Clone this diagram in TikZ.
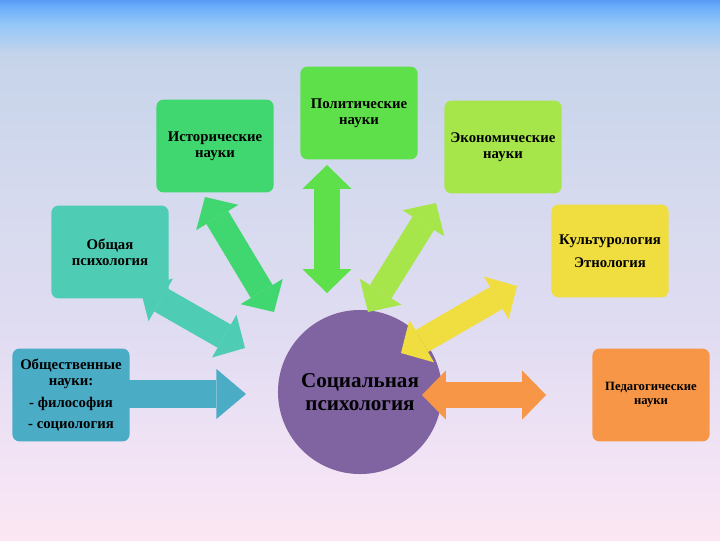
\documentclass[tikz,border=0pt]{standalone}
\usepackage{fontspec}
\setmainfont{Liberation Serif}
\usetikzlibrary{arrows.meta}

\definecolor{bgA}{HTML}{5A9AF4}
\definecolor{bgB}{HTML}{6AAEFA}
\definecolor{bgC}{HTML}{96C8F8}
\definecolor{bgD}{HTML}{C6D4EA}
\definecolor{bgE}{HTML}{D6DAEE}
\definecolor{bgF}{HTML}{E0DCF2}
\definecolor{bgG}{HTML}{F3E4F5}
\definecolor{bgH}{HTML}{FBE6F3}
\pgfdeclareverticalshading{slidebg}{100bp}{color(0bp)=(bgH); color(25bp)=(bgH); color(31.5bp)=(bgG); color(44.4bp)=(bgF); color(56.5bp)=(bgE); color(69.9bp)=(bgD); color(72.7bp)=(bgC); color(74.4bp)=(bgB); color(75bp)=(bgA); color(100bp)=(bgA)}

\definecolor{csoc}{HTML}{4BACC6}
\definecolor{cpsy}{HTML}{4ECDB4}
\definecolor{chist}{HTML}{40D670}
\definecolor{cpol}{HTML}{5EE04A}
\definecolor{cecon}{HTML}{A6E64A}
\definecolor{ccult}{HTML}{F0DE40}
\definecolor{cped}{HTML}{F79646}
\definecolor{ccore}{HTML}{8064A2}

\begin{document}
\begin{tikzpicture}[x=0.025cm, y=-0.025cm, every node/.style={font=\bfseries\fontsize{10.5}{11.5}\selectfont, align=center}, box/.style={rounded corners=5pt, minimum width=2.93cm, minimum height=2.32cm, inner sep=2pt}, dbl/.style={line width=18pt, {Triangle[width=35pt,length=17pt,line width=0pt]}-{Triangle[width=35pt,length=17pt,line width=0pt]}}, sgl/.style={line width=20.5pt, -{Triangle[width=35.5pt,length=21pt,line width=0pt]}}]
\shade[shading=slidebg] (0,0) rectangle (720,540);
\useasboundingbox (0,0) rectangle (720,540);

\node[circle, fill=ccore, minimum size=4.1cm, inner sep=0pt, font=\bfseries\fontsize{15}{16}\selectfont] (core) at (360,392) {Социальная\\психология};

% ends of the block arrows
\coordinate (obsh-s) at (100,394);
\coordinate (obsh-t) at (246,394);
\coordinate (psy-a) at (140,288);
\coordinate (psy-b) at (245,348);
\coordinate (hist-a) at (205,197);
\coordinate (hist-b) at (274,312);
\coordinate (pol-a) at (327,165);
\coordinate (pol-b) at (327,293);
\coordinate (econ-a) at (436,203);
\coordinate (econ-b) at (368,312);
\coordinate (cult-a) at (517,286);
\coordinate (cult-b) at (401,353);
\coordinate (ped-a) at (422,395);
\coordinate (ped-b) at (546,395);

\draw[sgl, csoc] (obsh-s) -- (obsh-t);
\draw[dbl, cpsy, line width=19pt] (psy-a) -- (psy-b);
\draw[dbl, chist] (hist-a) -- (hist-b);
\draw[dbl, cpol] (pol-a) -- (pol-b);
\draw[dbl, cecon] (econ-a) -- (econ-b);
\draw[dbl, ccult] (cult-a) -- (cult-b);
\draw[dbl, cped] (ped-a) -- (ped-b);

\node[box, fill=csoc] (obsh) at (71,395) {Общественные\\науки:\\[4pt]- философия\\[4pt]- социология};
\node[box, fill=cpsy] (psy) at (110,252) {Общая\\психология};
\node[box, fill=chist] (hist) at (215,146) {Исторические\\науки};
\node[box, fill=cpol] (pol) at (359,113) {Политические\\науки};
\node[box, fill=cecon] (econ) at (503,147) {Экономические\\науки};
\node[box, fill=ccult] (cult) at (610,251) {Культурология\\[4.5pt]Этнология};
\node[box, fill=cped, font=\bfseries\fontsize{9}{10}\selectfont] (ped) at (651,395) {Педагогические\\науки};
\end{tikzpicture}
\end{document}
